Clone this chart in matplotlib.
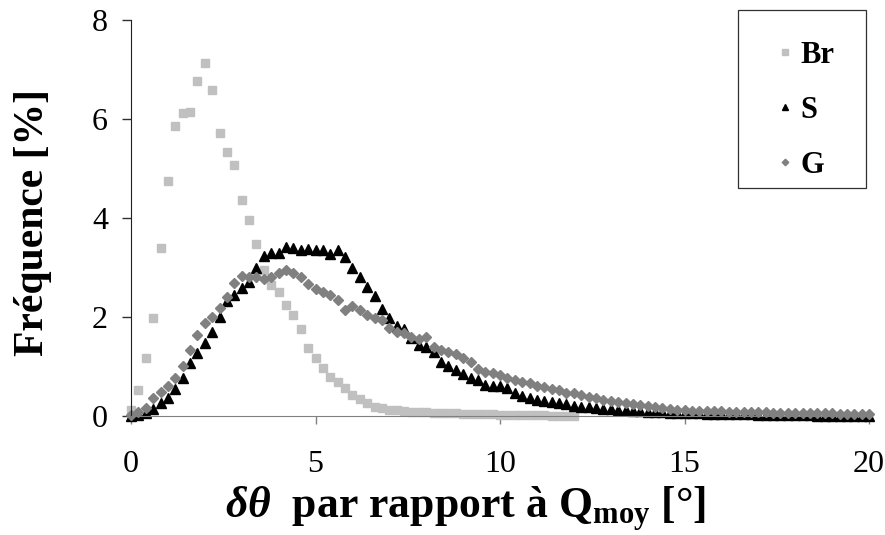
import numpy as np
import matplotlib
matplotlib.use('Agg')
import matplotlib.pyplot as plt
from matplotlib.patches import Rectangle

plt.rcParams['font.family'] = ['Liberation Serif', 'DejaVu Serif']
plt.rcParams['mathtext.fontset'] = 'custom'
plt.rcParams['mathtext.rm'] = 'Liberation Serif'
plt.rcParams['mathtext.bf'] = 'Liberation Serif:bold'
plt.rcParams['mathtext.it'] = 'Liberation Serif:italic'
plt.rcParams['mathtext.bfit'] = 'Liberation Serif:italic:bold'

# Données (pas de 0.2°)
x_br = np.round(np.arange(0, 12.01, 0.2), 1)
br = [0.12, 0.52, 1.17, 1.98, 3.39, 4.75, 5.86, 6.12, 6.14, 6.77,
      7.13, 6.59, 5.72, 5.33, 5.07, 4.36, 3.96, 3.47, 2.95, 2.65,
      2.50, 2.24, 2.04, 1.76, 1.37, 1.17, 0.97, 0.79, 0.69, 0.57,
      0.43, 0.34, 0.26, 0.18, 0.16, 0.13, 0.12, 0.10, 0.09, 0.08,
      0.08, 0.07, 0.07, 0.06, 0.06, 0.05, 0.05, 0.04, 0.04, 0.04,
      0.03, 0.03, 0.03, 0.02, 0.02, 0.02, 0.02, 0.01, 0.01, 0.01,
      0.01]

x_sg = np.round(np.arange(0, 20.01, 0.2), 1)
s = [0.00, 0.02, 0.06, 0.14, 0.26, 0.36, 0.55, 0.77, 1.07, 1.27,
     1.47, 1.70, 2.00, 2.32, 2.44, 2.59, 2.71, 2.99, 3.23, 3.29,
     3.29, 3.41, 3.39, 3.35, 3.38, 3.36, 3.35, 3.27, 3.35, 3.21,
     2.99, 2.81, 2.61, 2.42, 2.16, 1.98, 1.82, 1.76, 1.58, 1.43,
     1.39, 1.29, 1.09, 1.01, 0.93, 0.85, 0.77, 0.73, 0.63, 0.62,
     0.60, 0.56, 0.46, 0.40, 0.36, 0.33, 0.30, 0.28, 0.26, 0.24,
     0.21, 0.19, 0.18, 0.17, 0.15, 0.14, 0.13, 0.12, 0.11, 0.10,
     0.09, 0.09, 0.08, 0.07, 0.07, 0.06, 0.06, 0.06, 0.05, 0.05,
     0.05, 0.05, 0.04, 0.04, 0.04, 0.03, 0.03, 0.03, 0.02, 0.02,
     0.02, 0.02, 0.02, 0.01, 0.01, 0.01, 0.01, 0.01, 0.01, 0.01,
     0.01]
g = [0.02, 0.08, 0.16, 0.36, 0.48, 0.60, 0.77, 1.01, 1.33, 1.64,
     1.88, 2.00, 2.18, 2.40, 2.69, 2.83, 2.81, 2.81, 2.77, 2.81,
     2.89, 2.95, 2.89, 2.81, 2.67, 2.56, 2.51, 2.44, 2.34, 2.14,
     2.22, 2.14, 2.04, 1.98, 1.94, 1.78, 1.70, 1.68, 1.60, 1.56,
     1.60, 1.39, 1.33, 1.29, 1.25, 1.17, 1.09, 0.95, 0.89, 0.87,
     0.83, 0.77, 0.73, 0.69, 0.67, 0.61, 0.59, 0.55, 0.53, 0.47,
     0.46, 0.42, 0.38, 0.36, 0.32, 0.30, 0.28, 0.26, 0.24, 0.22,
     0.20, 0.18, 0.16, 0.14, 0.12, 0.12, 0.11, 0.11, 0.10, 0.10,
     0.10, 0.09, 0.09, 0.09, 0.08, 0.08, 0.08, 0.07, 0.07, 0.07,
     0.07, 0.06, 0.06, 0.06, 0.06, 0.06, 0.05, 0.05, 0.05, 0.05,
     0.05]

W, H = 885, 535
fig = plt.figure(figsize=(W / 100, H / 100), dpi=100)
ax = fig.add_axes([0.148, 0.222, 0.834, 0.741])

ax.plot(x_br, br, linestyle='none', marker='s', ms=6.3, color='#c0c0c0', label='Br', clip_on=False)
ax.plot(x_sg, s, linestyle='none', marker='^', ms=7.5, color='black', label='S', clip_on=False)
ax.plot(x_sg, g, linestyle='none', marker='D', ms=5.5, color='#808080', label='G', clip_on=False)

ax.set_xlim(0, 20)
ax.set_ylim(0, 8)
ax.set_xticks([0, 5, 10, 15, 20])
ax.set_yticks([0, 2, 4, 6, 8])
ax.spines['top'].set_visible(False)
ax.spines['right'].set_visible(False)
ax.spines['bottom'].set_color('#808080')
ax.spines['left'].set_color('#202020')
ax.tick_params(axis='both', direction='out', width=1, labelsize=23)
ax.tick_params(axis='x', length=5.5, pad=19, color='#808080')
ax.tick_params(axis='y', length=6.5, pad=10, color='#303030')

# titres des axes
fig.text(33 / W, 1 - 222 / H, 'Fréquence [%]', rotation=90, fontsize=30, fontweight='bold',
         ha='center', va='center')
fig.text(465 / W, 1 - 509 / H, r'$\mathbfit{\delta\theta}$  par rapport à Q$_{\mathbf{moy}}$ [°]',
         fontsize=31.5, fontweight='bold', ha='center', va='center')

# légende
leg = ax.legend(loc='upper left', bbox_to_anchor=(773 / W, 1 - 41 / H), bbox_transform=fig.transFigure,
                frameon=False, markerscale=0.6, prop={'weight': 'bold', 'size': 22},
                labelspacing=0.85, handlelength=0.8, handletextpad=0.1,
                borderpad=0, borderaxespad=0)
fig.patches.append(Rectangle((738 / W, 1 - 188 / H), 128 / W, 178 / H, transform=fig.transFigure,
                             fill=False, edgecolor='#303030', linewidth=0.9))

fig.savefig('out.png', dpi=100)
